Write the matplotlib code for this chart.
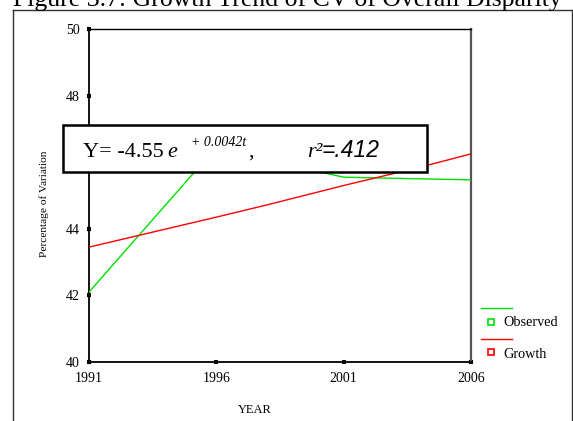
import matplotlib
matplotlib.use("Agg")
import matplotlib.pyplot as plt
from matplotlib.lines import Line2D
from matplotlib.patches import Rectangle

# ---- data ----
years = [1991, 1996, 1998, 2001, 2004, 2006]
observed = [42.1, 46.45, 46.05, 45.55, 45.5, 45.47]
growth = [43.45, 44.35, 44.72, 45.3, 45.85, 46.25]
x_ticks = [1991, 1996, 2001, 2006]
y_ticks = [40, 42, 44, 46, 48, 50]
title = "Figure 3.7: Growth Trend of CV of Overall Disparity"
x_label = "YEAR"
y_label = "Percentage of Variation"
legend_labels = ["Observed", "Growth"]

W, H = 573, 421
plt.rcParams['font.family'] = ['Liberation Serif', 'DejaVu Serif']
fig = plt.figure(figsize=(W / 100, H / 100), dpi=100)
fig.patch.set_facecolor('white')


def fx(px):
    return px / W


def fy(py):
    return 1 - py / H


ax = fig.add_axes([fx(89), fy(362), fx(471) - fx(89), fy(29) - fy(362)])
green = '#00e000'
red = '#ff0000'
ax.plot(years, observed, color=green, lw=1.0, zorder=3)
ax.plot(years, growth, color=red, lw=1.0, zorder=3)
ax.set_xlim(1991, 2006)
ax.set_ylim(40, 50)
ax.set_xticks(x_ticks)
ax.set_xticklabels([str(t) for t in x_ticks])
ax.set_yticks(y_ticks)
ax.set_yticklabels([str(t) for t in y_ticks])
ax.tick_params(axis='both', length=3, width=3, direction='inout', labelsize=10, color='black')
ax.tick_params(axis='x', pad=6)
ax.tick_params(axis='y', pad=5)
for s in ['left', 'bottom']:
    ax.spines[s].set_color('black')
    ax.spines[s].set_linewidth(1.3)
ax.spines['top'].set_color('black')
ax.spines['top'].set_linewidth(1.0)
ax.spines['right'].set_color('#555555')
ax.spines['right'].set_linewidth(1.6)

fig.text(fx(255), fy(410), x_label, ha='center', va='center', fontsize=9)
fig.text(fx(44), fy(204), y_label, ha='center', va='center', rotation=90, fontsize=8.2)

# outer frame
frame_col = '#333333'
fig.add_artist(Line2D([fx(12.5), fx(12.5)], [fy(10), fy(H + 5)], color=frame_col, lw=1.0, transform=fig.transFigure))
fig.add_artist(Line2D([fx(12.5), fx(571.5)], [fy(10), fy(10)], color=frame_col, lw=1.0, transform=fig.transFigure))
fig.add_artist(Line2D([fx(571.5), fx(571.5)], [fy(10), fy(H + 5)], color=frame_col, lw=1.0, transform=fig.transFigure))

# title (clipped at top, as in the reference)
t = fig.text(fx(13), fy(6), title, ha='left', va='baseline', fontsize=18)
fig.canvas.draw()
bb = t.get_window_extent()
t.set_fontsize(18 * 549 / bb.width)

# equation box
fig.add_artist(Rectangle((fx(63), fy(172)), fx(427) - fx(63), fy(125) - fy(172),
                         facecolor='white', edgecolor='black', lw=1.8,
                         transform=fig.transFigure, zorder=10))
base = fy(157)
fig.text(fx(83), base, "Y= -4.55", fontsize=16, va='baseline', ha='left', zorder=11)
fig.text(fx(167), base, "e", fontsize=16, style='italic', va='baseline', ha='left', zorder=11)
fig.text(fx(191), fy(146), "+ 0.0042t", fontsize=10, style='italic', va='baseline', ha='left', zorder=11)
fig.text(fx(248), base, ",", fontsize=16, va='baseline', ha='left', zorder=11)
fig.text(fx(307), base, "r\u00b2", fontsize=16, style='italic', va='baseline', ha='left', zorder=11)
fig.text(fx(322), base, "=.412", fontsize=16.5, style='italic', va='baseline', ha='left',
         family=['Liberation Sans', 'DejaVu Sans'], zorder=11)

# legend
fig.add_artist(Line2D([fx(481), fx(512)], [fy(308), fy(308)], color=green, lw=1.0, transform=fig.transFigure))
fig.add_artist(Line2D([fx(491)], [fy(321.5)], color=green, marker='s', markersize=4, markerfacecolor='white',
                      markeredgewidth=1.2, linestyle='none', transform=fig.transFigure))
fig.text(fx(503), fy(323), legend_labels[0], fontsize=10.3, va='center', ha='left')
fig.add_artist(Line2D([fx(481), fx(512)], [fy(339), fy(339)], color=red, lw=1.0, transform=fig.transFigure))
fig.add_artist(Line2D([fx(491)], [fy(352)], color=red, marker='s', markersize=4, markerfacecolor='white',
                      markeredgewidth=1.2, linestyle='none', transform=fig.transFigure))
fig.text(fx(503), fy(354), legend_labels[1], fontsize=10.3, va='center', ha='left')

fig.savefig('out.png', dpi=100)
